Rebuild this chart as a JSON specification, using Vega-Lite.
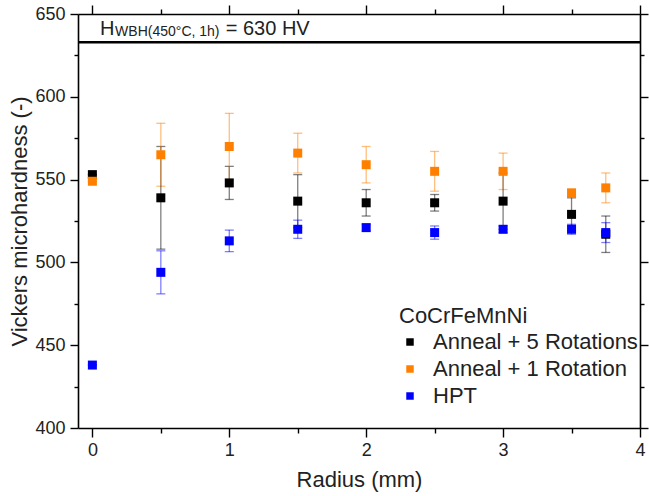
{
  "$schema": "https://vega.github.io/schema/vega-lite/v6.json",
  "width": 562,
  "height": 414,
  "autosize": {"type": "none"},
  "padding": {"left": 78, "top": 14, "right": 9, "bottom": 68},
  "background": "white",
  "config": {
    "view": {"stroke": null},
    "font": "Liberation Sans",
    "axis": {
      "grid": false,
      "domainColor": "black",
      "domainWidth": 1.6,
      "tickColor": "black",
      "tickWidth": 1.4,
      "labelFont": "Liberation Sans",
      "labelFontSize": 18,
      "labelColor": "#222",
      "titleFont": "Liberation Sans",
      "titleFontSize": 22,
      "titleFontWeight": "normal",
      "titleColor": "#222"
    },
    "legend": {
      "titleFont": "Liberation Sans",
      "titleFontSize": 22,
      "titleFontWeight": "normal",
      "titleColor": "#222",
      "labelFont": "Liberation Sans",
      "labelFontSize": 22,
      "labelColor": "#222",
      "labelLimit": 400,
      "titleLimit": 400
    }
  },
  "data": {
    "values": [
      {"series": "Anneal + 5 Rotations", "r": 0, "hv": 553, "err": 0},
      {"series": "Anneal + 5 Rotations", "r": 0.5, "hv": 539, "err": 31},
      {"series": "Anneal + 5 Rotations", "r": 1, "hv": 548, "err": 10},
      {"series": "Anneal + 5 Rotations", "r": 1.5, "hv": 537, "err": 16},
      {"series": "Anneal + 5 Rotations", "r": 2, "hv": 536, "err": 8},
      {"series": "Anneal + 5 Rotations", "r": 2.5, "hv": 536, "err": 5},
      {"series": "Anneal + 5 Rotations", "r": 3, "hv": 537, "err": 17},
      {"series": "Anneal + 5 Rotations", "r": 3.5, "hv": 529, "err": 10},
      {"series": "Anneal + 5 Rotations", "r": 3.75, "hv": 517, "err": 11},
      {"series": "Anneal + 1 Rotation", "r": 0, "hv": 549, "err": 0},
      {"series": "Anneal + 1 Rotation", "r": 0.5, "hv": 565, "err": 19},
      {"series": "Anneal + 1 Rotation", "r": 1, "hv": 570, "err": 20},
      {"series": "Anneal + 1 Rotation", "r": 1.5, "hv": 566, "err": 12},
      {"series": "Anneal + 1 Rotation", "r": 2, "hv": 559, "err": 11},
      {"series": "Anneal + 1 Rotation", "r": 2.5, "hv": 555, "err": 12},
      {"series": "Anneal + 1 Rotation", "r": 3, "hv": 555, "err": 11},
      {"series": "Anneal + 1 Rotation", "r": 3.5, "hv": 542, "err": 2},
      {"series": "Anneal + 1 Rotation", "r": 3.75, "hv": 545, "err": 9},
      {"series": "HPT", "r": 0, "hv": 438, "err": 0},
      {"series": "HPT", "r": 0.5, "hv": 494, "err": 13},
      {"series": "HPT", "r": 1, "hv": 513, "err": 6.5},
      {"series": "HPT", "r": 1.5, "hv": 520, "err": 5.5},
      {"series": "HPT", "r": 2, "hv": 521, "err": 2},
      {"series": "HPT", "r": 2.5, "hv": 518, "err": 4},
      {"series": "HPT", "r": 3, "hv": 520, "err": 2},
      {"series": "HPT", "r": 3.5, "hv": 520, "err": 3},
      {"series": "HPT", "r": 3.75, "hv": 518, "err": 6}
    ]
  },
  "layer": [
    {
      "mark": {"type": "errorbar", "ticks": {"size": 9}, "thickness": 1.3, "opacity": 0.5},
      "encoding": {
        "x": {
          "field": "r", "type": "quantitative",
          "scale": {"domain": [-0.105, 4], "nice": false, "zero": false},
          "axis": {
            "orient": "bottom",
            "title": "Radius (mm)",
            "values": [0, 0.5, 1, 1.5, 2, 2.5, 3, 3.5, 4],
            "labelExpr": "datum.value % 1 === 0 ? format(datum.value, 'd') : ''",
            "tickSize": {"condition": {"test": "datum.value % 1 === 0", "value": 9}, "value": 5},
            "labelPadding": 4,
            "titlePadding": 10,
            "labelFlush": false
          }
        },
        "y": {
          "field": "hv", "type": "quantitative",
          "scale": {"domain": [400, 650], "nice": false, "zero": false},
          "axis": {
            "orient": "left",
            "title": "Vickers microhardness (-)",
            "values": [400, 425, 450, 475, 500, 525, 550, 575, 600, 625, 650],
            "labelExpr": "datum.value % 50 === 0 ? datum.label : ''",
            "tickSize": {"condition": {"test": "datum.value % 50 === 0", "value": 8}, "value": 4},
            "labelPadding": 5,
            "titlePadding": 3,
            "labelFlush": false
          }
        },
        "yError": {"field": "err"},
        "color": {
          "field": "series", "type": "nominal",
          "scale": {"domain": ["Anneal + 5 Rotations", "Anneal + 1 Rotation", "HPT"], "range": ["#000000", "#FF8000", "#0000FF"]},
          "legend": {
            "title": "CoCrFeMnNi",
            "orient": "none",
            "legendX": 321,
            "legendY": 292,
            "titlePadding": 3,
            "labelOffset": 12,
            "symbolType": "square",
            "symbolSize": 56,
            "symbolStrokeWidth": 0,
            "symbolOpacity": 1,
            "rowPadding": 5
          }
        }
      }
    },
    {
      "mark": {"type": "square", "size": 81, "filled": true, "opacity": 1},
      "encoding": {
        "x": {
          "field": "r", "type": "quantitative",
          "axis": {
            "orient": "top", "title": null, "labels": false,
            "values": [0, 0.5, 1, 1.5, 2, 2.5, 3, 3.5, 4],
            "tickSize": {"condition": {"test": "datum.value % 1 === 0", "value": 9}, "value": 5}
          }
        },
        "y": {
          "field": "hv", "type": "quantitative",
          "axis": {
            "orient": "right", "title": null, "labels": false,
            "values": [400, 425, 450, 475, 500, 525, 550, 575, 600, 625, 650],
            "tickSize": {"condition": {"test": "datum.value % 50 === 0", "value": 8}, "value": 4}
          }
        },
        "color": {
          "field": "series", "type": "nominal",
          "legend": {
            "title": "CoCrFeMnNi",
            "orient": "none",
            "legendX": 321,
            "legendY": 292,
            "titlePadding": 3,
            "labelOffset": 12,
            "symbolType": "square",
            "symbolSize": 56,
            "symbolStrokeWidth": 0,
            "symbolOpacity": 1,
            "rowPadding": 5
          }
        }
      }
    },
    {
      "data": {"values": [{"limit": 633}]},
      "mark": {"type": "rule", "strokeWidth": 2.5, "color": "black"},
      "encoding": {"y": {"field": "limit", "type": "quantitative", "axis": null}}
    },
    {
      "data": {"values": [
        {"t": "H", "x": 0.056, "y": 637.3},
        {"t": "= 630 HV", "x": 0.974, "y": 637.3}
      ]},
      "mark": {"type": "text", "align": "left", "baseline": "alphabetic", "fontSize": 20, "font": "Liberation Sans", "color": "#222"},
      "encoding": {
        "x": {"field": "x", "type": "quantitative", "axis": null},
        "y": {"field": "y", "type": "quantitative", "axis": null},
        "text": {"field": "t"}
      }
    },
    {
      "data": {"values": [{"t": "WBH(450°C, 1h)", "x": 0.166, "y": 636.8}]},
      "mark": {"type": "text", "align": "left", "baseline": "alphabetic", "fontSize": 14, "font": "Liberation Sans", "color": "#222"},
      "encoding": {
        "x": {"field": "x", "type": "quantitative", "axis": null},
        "y": {"field": "y", "type": "quantitative", "axis": null},
        "text": {"field": "t"}
      }
    }
  ]
}
